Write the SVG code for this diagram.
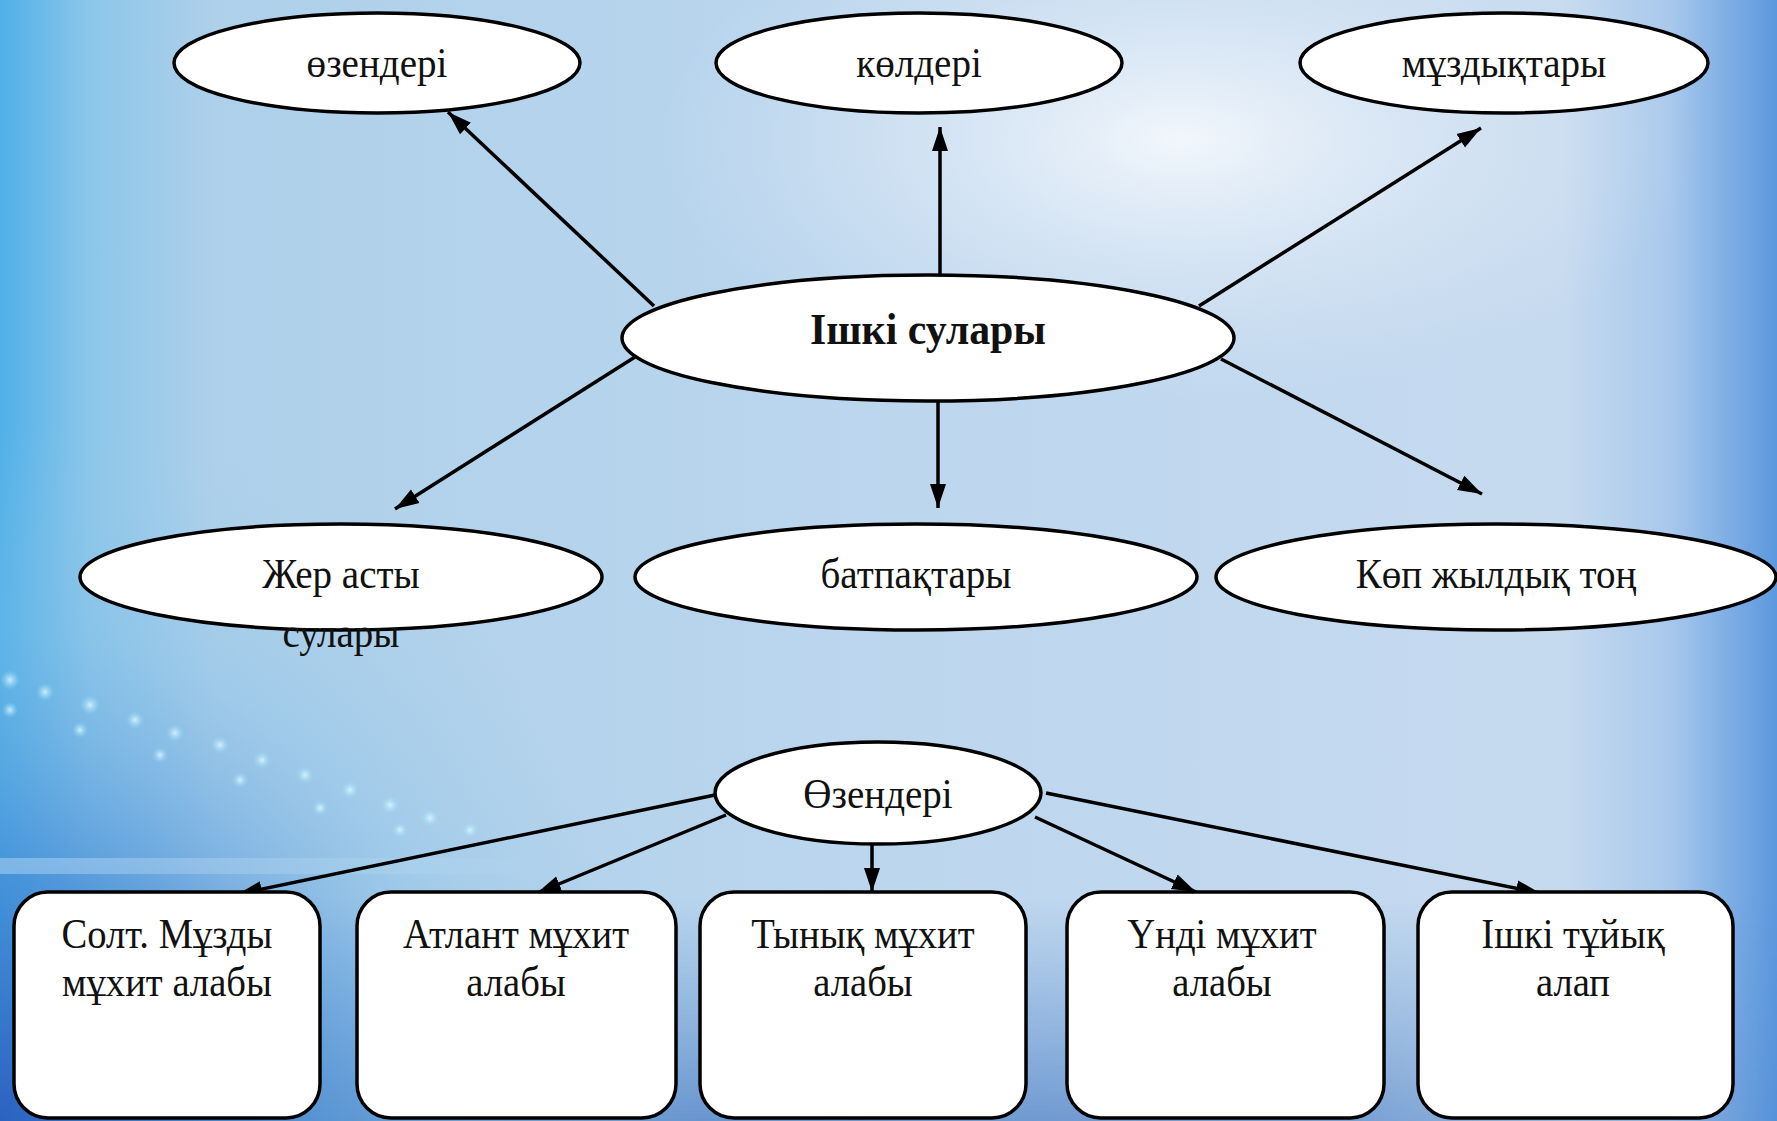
<svg xmlns="http://www.w3.org/2000/svg" width="1777" height="1121" viewBox="0 0 1777 1121">
<defs>
<linearGradient id="bgH" x1="0" y1="0" x2="1" y2="0">
<stop offset="0" stop-color="#4fb0e8"/>
<stop offset="0.05" stop-color="#8cc6ea"/>
<stop offset="0.12" stop-color="#aed0ea"/>
<stop offset="0.5" stop-color="#bcd6ee"/>
<stop offset="0.88" stop-color="#c6daef"/>
<stop offset="0.94" stop-color="#a8c8ec"/>
<stop offset="1" stop-color="#5c98de"/>
</linearGradient>
<radialGradient id="glow" cx="1180" cy="140" r="520" gradientUnits="userSpaceOnUse" gradientTransform="translate(1180 140) scale(1 0.5) translate(-1180 -140)">
<stop offset="0" stop-color="#f4f8fc" stop-opacity="0.95"/>
<stop offset="0.5" stop-color="#e6eef8" stop-opacity="0.5"/>
<stop offset="1" stop-color="#dce8f4" stop-opacity="0"/>
</radialGradient>
<radialGradient id="bl" cx="0" cy="1121" r="700" gradientUnits="userSpaceOnUse">
<stop offset="0" stop-color="#2a5fc0" stop-opacity="0.9"/>
<stop offset="0.35" stop-color="#3f86d4" stop-opacity="0.7"/>
<stop offset="0.7" stop-color="#7fbde6" stop-opacity="0.3"/>
<stop offset="1" stop-color="#9fcbe9" stop-opacity="0"/>
</radialGradient>
<linearGradient id="bot" x1="0" y1="0" x2="0" y2="1">
<stop offset="0" stop-color="#3a78c8" stop-opacity="0"/>
<stop offset="1" stop-color="#2f68b8" stop-opacity="0.65"/>
</linearGradient>
<linearGradient id="botfade" x1="0" y1="0" x2="1" y2="0">
<stop offset="0" stop-color="#fff" stop-opacity="1"/>
<stop offset="0.75" stop-color="#fff" stop-opacity="0.8"/>
<stop offset="1" stop-color="#fff" stop-opacity="0.2"/>
</linearGradient>
<mask id="bm"><rect x="0" y="0" width="1777" height="1121" fill="url(#botfade)"/></mask>
<radialGradient id="light" cx="0.5" cy="0.5" r="0.5">
<stop offset="0" stop-color="#e8fbff" stop-opacity="0.8"/>
<stop offset="1" stop-color="#8fe0ff" stop-opacity="0"/>
</radialGradient>
<linearGradient id="strip" x1="0" y1="0" x2="1" y2="0">
<stop offset="0" stop-color="#e4f6ff" stop-opacity="0.35"/>
<stop offset="1" stop-color="#e4f6ff" stop-opacity="0"/>
</linearGradient>
<marker id="ah" markerUnits="userSpaceOnUse" markerWidth="26" markerHeight="20" viewBox="0 0 26 20" refX="24" refY="10" orient="auto">
<path d="M0,2 L24,10 L0,18 Z" fill="#000"/>
</marker>
<style>
.n{fill:#fff;stroke:#000;stroke-width:3.5}
.t{font-family:"Liberation Serif","DejaVu Serif","Times New Roman",serif;font-size:42px;fill:#111;text-anchor:middle}
.b{font-weight:bold;font-size:45px}
.c line{stroke:#000;stroke-width:3.5;marker-end:url(#ah)}
</style>
</defs>
<rect x="0" y="0" width="1777" height="1121" fill="url(#bgH)"/>
<rect x="0" y="0" width="1777" height="1121" fill="url(#glow)"/>
<rect x="0" y="900" width="1777" height="221" fill="url(#bot)" mask="url(#bm)"/>
<rect x="0" y="400" width="800" height="721" fill="url(#bl)"/>
<g fill="url(#light)">
<circle cx="10" cy="680" r="10"/><circle cx="45" cy="692" r="9"/><circle cx="90" cy="705" r="10"/>
<circle cx="135" cy="720" r="9"/><circle cx="175" cy="733" r="9"/><circle cx="220" cy="745" r="9"/>
<circle cx="262" cy="760" r="9"/><circle cx="305" cy="775" r="9"/><circle cx="350" cy="790" r="9"/>
<circle cx="390" cy="805" r="9"/><circle cx="430" cy="818" r="9"/><circle cx="470" cy="830" r="8"/>
<circle cx="10" cy="710" r="8"/><circle cx="80" cy="730" r="8"/><circle cx="160" cy="755" r="8"/>
<circle cx="240" cy="780" r="8"/><circle cx="320" cy="808" r="8"/><circle cx="400" cy="830" r="8"/>
</g>
<rect x="0" y="858" width="560" height="16" fill="url(#strip)"/>

<g class="c">
<line x1="654" y1="306" x2="448" y2="112"/>
<line x1="940" y1="274" x2="940" y2="127"/>
<line x1="1199" y1="306" x2="1481" y2="128"/>
<line x1="635" y1="357" x2="395" y2="509"/>
<line x1="938" y1="401" x2="938" y2="508"/>
<line x1="1221" y1="359" x2="1482" y2="494"/>
<line x1="715" y1="795" x2="238" y2="894"/>
<line x1="726" y1="815" x2="537" y2="893"/>
<line x1="872" y1="845" x2="872" y2="892"/>
<line x1="1035" y1="817" x2="1196" y2="892"/>
<line x1="1046" y1="793" x2="1540" y2="893"/>
</g>

<g id="n-ozenderi"><ellipse class="n" cx="377" cy="63" rx="203" ry="50"/><text class="t" transform="translate(377 77) scale(0.93 1)">өзендері</text></g>
<g id="n-kolderi"><ellipse class="n" cx="919" cy="63" rx="203" ry="50"/><text class="t" transform="translate(919 77) scale(0.93 1)">көлдері</text></g>
<g id="n-muzdyktary"><ellipse class="n" cx="1504" cy="63" rx="204" ry="50"/><text class="t" transform="translate(1504 77) scale(0.93 1)">мұздықтары</text></g>
<g id="n-ishki"><ellipse class="n" cx="928" cy="338" rx="306" ry="63"/><text class="t b" transform="translate(928 344) scale(0.93 1)">Ішкі сулары</text></g>
<g id="n-zher"><ellipse class="n" cx="341" cy="577" rx="261" ry="53"/><text class="t" transform="translate(341 588) scale(0.93 1)">Жер асты</text><text class="t" transform="translate(341 647) scale(0.93 1)">сулары</text></g>
<g id="n-batpak"><ellipse class="n" cx="916" cy="577" rx="281" ry="53"/><text class="t" transform="translate(916 588) scale(0.93 1)">батпақтары</text></g>
<g id="n-ton"><ellipse class="n" cx="1496" cy="577" rx="280" ry="53"/><text class="t" transform="translate(1496 588) scale(0.93 1)">Көп жылдық тоң</text></g>
<g id="n-ozenderi2"><ellipse class="n" cx="878" cy="793" rx="163" ry="51"/><text class="t" transform="translate(878 808) scale(0.93 1)">Өзендері</text></g>

<g id="b1"><rect class="n" x="14" y="892" width="306" height="226" rx="34"/><text class="t" transform="translate(167 948) scale(0.92 1)">Солт. Мұзды</text><text class="t" transform="translate(167 996) scale(0.92 1)">мұхит алабы</text></g>
<g id="b2"><rect class="n" x="357" y="892" width="319" height="226" rx="34"/><text class="t" transform="translate(516 948) scale(0.92 1)">Атлант мұхит</text><text class="t" transform="translate(516 996) scale(0.92 1)">алабы</text></g>
<g id="b3"><rect class="n" x="700" y="892" width="326" height="226" rx="34"/><text class="t" transform="translate(863 948) scale(0.92 1)">Тынық мұхит</text><text class="t" transform="translate(863 996) scale(0.92 1)">алабы</text></g>
<g id="b4"><rect class="n" x="1067" y="892" width="317" height="226" rx="34"/><text class="t" transform="translate(1222 948) scale(0.92 1)">Үнді мұхит</text><text class="t" transform="translate(1222 996) scale(0.92 1)">алабы</text></g>
<g id="b5"><rect class="n" x="1418" y="892" width="315" height="226" rx="34"/><text class="t" transform="translate(1573 948) scale(0.92 1)">Ішкі тұйық</text><text class="t" transform="translate(1573 996) scale(0.92 1)">алап</text></g>
</svg>
